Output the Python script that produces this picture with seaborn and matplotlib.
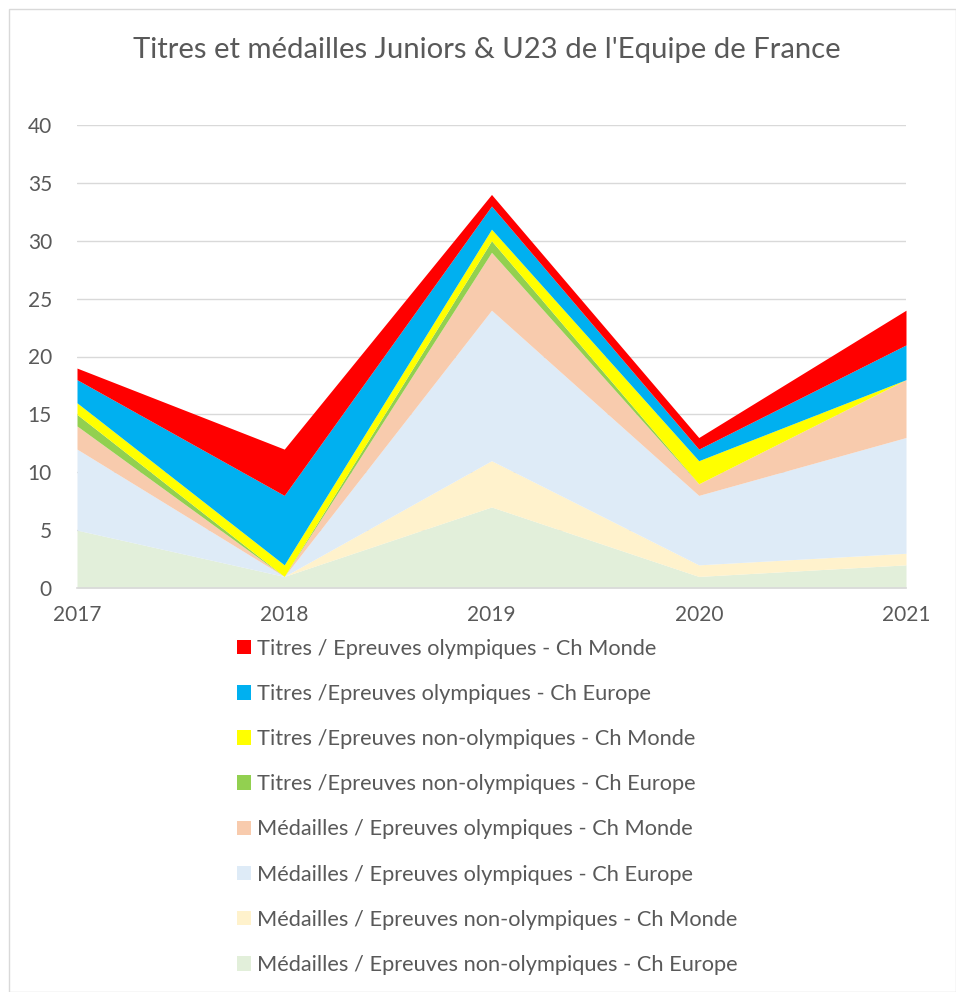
import matplotlib
matplotlib.use("Agg")
import matplotlib.pyplot as plt
import matplotlib.patches as mpatches
import numpy as np
import pandas as pd
import seaborn as sns

# Data (bottom of stack first)
years = [2017, 2018, 2019, 2020, 2021]
med_nonolymp_europe = [5, 1, 7, 1, 2]
med_nonolymp_monde = [0, 0, 4, 1, 1]
med_olymp_europe = [7, 0, 13, 6, 10]
med_olymp_monde = [2, 0, 5, 1, 5]
tit_nonolymp_europe = [1, 0, 1, 0, 0]
tit_nonolymp_monde = [1, 1, 1, 2, 0]
tit_olymp_europe = [2, 6, 2, 1, 3]
tit_olymp_monde = [1, 4, 1, 1, 3]

labels = [
    "Médailles / Epreuves non-olympiques - Ch Europe",
    "Médailles / Epreuves non-olympiques - Ch Monde",
    "Médailles / Epreuves olympiques - Ch Europe",
    "Médailles / Epreuves olympiques - Ch Monde",
    "Titres /Epreuves non-olympiques - Ch Europe",
    "Titres /Epreuves non-olympiques - Ch Monde",
    "Titres /Epreuves olympiques - Ch Europe",
    "Titres / Epreuves olympiques - Ch Monde",
]
colors = ["#E2EFDA", "#FFF2CC", "#DEEBF7", "#F8CBAD",
          "#92D050", "#FFFF00", "#00B0F0", "#FF0000"]

data = pd.DataFrame(
    np.array([med_nonolymp_europe, med_nonolymp_monde, med_olymp_europe, med_olymp_monde,
              tit_nonolymp_europe, tit_nonolymp_monde, tit_olymp_europe, tit_olymp_monde]).T,
    index=years, columns=labels)

sns.set_theme(style="white")
plt.rcParams["font.family"] = ["Lato", "DejaVu Sans"]
text_col = "#595959"

fig = plt.figure(figsize=(9.56, 9.92), dpi=100)
ax = fig.add_axes([77 / 956, 1 - 588 / 992, (906 - 77) / 956, (588 - 125) / 992])

ax.stackplot(data.index, data.T.values, colors=colors, labels=labels, linewidth=0)

ax.set_xlim(2017, 2021)
ax.set_ylim(0, 40)
ax.set_yticks(range(0, 41, 5))
ax.set_xticks(years)
ax.yaxis.grid(True, color="#D9D9D9", linewidth=1)
ax.set_axisbelow(True)
for s in ["top", "right", "left"]:
    ax.spines[s].set_visible(False)
ax.spines["bottom"].set_color("#D9D9D9")
ax.spines["bottom"].set_linewidth(1.2)
ax.tick_params(axis="x", colors="#D9D9D9", length=6, width=1.2, direction="out",
               labelcolor=text_col, labelsize=15, pad=6)
ax.tick_params(axis="y", length=0, labelcolor=text_col, labelsize=15, pad=18)
ax.set_xlabel("")
ax.set_ylabel("")

fig.text(487 / 956, 1 - 50 / 992, "Titres et médailles Juniors & U23 de l'Equipe de France",
         ha="center", va="center", fontsize=21.1, color=text_col)

handles = [mpatches.Patch(facecolor=c, edgecolor="none") for c in colors][::-1]
leg = fig.legend(handles, labels[::-1], loc="upper left",
                 bbox_to_anchor=(228 / 956, 1 - 630 / 992), frameon=False,
                 fontsize=15.7, labelcolor=text_col, handlelength=0.65, handleheight=0.65,
                 handletextpad=0.3, labelspacing=1.155, borderaxespad=0)

fig.patches.append(mpatches.Rectangle((9 / 956, 0), 1 - 9 / 956, 1 - 9 / 992,
                                      transform=fig.transFigure, fill=False,
                                      edgecolor="#D9D9D9", linewidth=1))

fig.savefig("out.png", dpi=100)
